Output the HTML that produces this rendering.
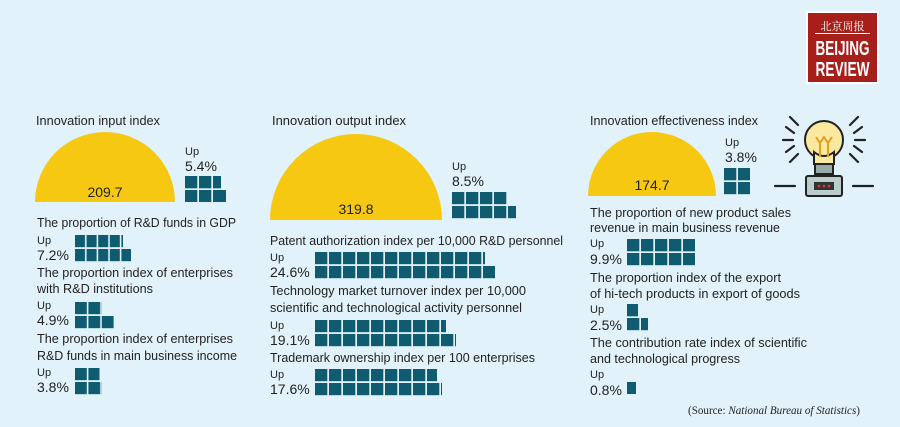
<!DOCTYPE html>
<html><head><meta charset="utf-8"><style>
html,body{margin:0;padding:0;background:#e1f2fa;}
svg{display:block;font-family:"Liberation Sans","Noto Sans CJK SC",sans-serif;}
</style></head><body>
<svg width="900" height="427" viewBox="0 0 900 427" xmlns="http://www.w3.org/2000/svg">
<defs>
<pattern id="p14" patternUnits="userSpaceOnUse" width="14" height="14"><rect width="12.3" height="12.3" fill="#0f5b6f"/></pattern>
<pattern id="p12" patternUnits="userSpaceOnUse" width="11.6" height="14"><rect width="10" height="12.3" fill="#0f5b6f"/></pattern>
<pattern id="p13" patternUnits="userSpaceOnUse" width="13.4" height="14"><rect width="11.8" height="12.3" fill="#0f5b6f"/></pattern>
</defs>
<rect width="900" height="427" fill="#e1f2fa"/>
<g fill="#222">
<!-- column 1 -->
<text x="36" y="125" font-size="13" textLength="124" lengthAdjust="spacingAndGlyphs">Innovation input index</text>
<path d="M35 202 A70 70 0 0 1 175 202 Z" fill="#f7c812"/>
<text x="105" y="197" font-size="14" text-anchor="middle">209.7</text>
<text x="185" y="155" font-size="11">Up</text>
<text x="185" y="171" font-size="14">5.4%</text>
<g transform="translate(185,176)"><rect width="36" height="26" fill="url(#p14)"/><rect x="36" y="14" width="5" height="12" fill="#0f5b6f"/></g>

<text x="37" y="227" font-size="13" textLength="199" lengthAdjust="spacingAndGlyphs">The proportion of R&amp;D funds in GDP</text>
<text x="37" y="244" font-size="11">Up</text>
<text x="37" y="260" font-size="14">7.2%</text>
<g transform="translate(75,235)"><rect width="48" height="12.3" fill="url(#p12)"/><rect y="14" width="56" height="12.3" fill="url(#p12)"/></g>

<text x="37" y="277" font-size="13" textLength="196" lengthAdjust="spacingAndGlyphs">The proportion index of enterprises</text>
<text x="37" y="293" font-size="13" textLength="116" lengthAdjust="spacingAndGlyphs">with R&amp;D institutions</text>
<text x="37" y="309" font-size="11">Up</text>
<text x="37" y="325" font-size="14">4.9%</text>
<g transform="translate(75,302)"><rect width="27" height="12.3" fill="url(#p13)"/><rect y="14" width="40" height="12.3" fill="url(#p13)"/></g>

<text x="37" y="343" font-size="13" textLength="196" lengthAdjust="spacingAndGlyphs">The proportion index of enterprises</text>
<text x="37" y="360" font-size="13" textLength="200" lengthAdjust="spacingAndGlyphs">R&amp;D funds in main business income</text>
<text x="37" y="376" font-size="11">Up</text>
<text x="37" y="392" font-size="14">3.8%</text>
<g transform="translate(75,368)"><rect width="24.5" height="12.3" fill="url(#p13)"/><rect y="14" width="27" height="12.3" fill="url(#p13)"/></g>

<!-- column 2 -->
<text x="272" y="125" font-size="13" textLength="134" lengthAdjust="spacingAndGlyphs">Innovation output index</text>
<path d="M270 220 A86 86 0 0 1 442 220 Z" fill="#f7c812"/>
<text x="356" y="214" font-size="14" text-anchor="middle">319.8</text>
<text x="452" y="170" font-size="11">Up</text>
<text x="452" y="186" font-size="14">8.5%</text>
<g transform="translate(452,192)"><rect width="55" height="12.3" fill="url(#p14)"/><rect y="14" width="64" height="12.3" fill="url(#p14)"/></g>

<text x="270" y="245" font-size="13" textLength="293" lengthAdjust="spacingAndGlyphs">Patent authorization index per 10,000 R&amp;D personnel</text>
<text x="270" y="261" font-size="11">Up</text>
<text x="270" y="277" font-size="14">24.6%</text>
<g transform="translate(315,252)"><rect width="170" height="12.3" fill="url(#p14)"/><rect y="14" width="180" height="12.3" fill="url(#p14)"/></g>

<text x="270" y="295" font-size="13" textLength="256" lengthAdjust="spacingAndGlyphs">Technology market turnover index per 10,000</text>
<text x="270" y="312" font-size="13" textLength="252" lengthAdjust="spacingAndGlyphs">scientific and technological activity personnel</text>
<text x="270" y="329" font-size="11">Up</text>
<text x="270" y="345" font-size="14">19.1%</text>
<g transform="translate(315,320)"><rect width="131" height="12.3" fill="url(#p14)"/><rect y="14" width="141" height="12.3" fill="url(#p14)"/></g>

<text x="270" y="362" font-size="13" textLength="265" lengthAdjust="spacingAndGlyphs">Trademark ownership index per 100 enterprises</text>
<text x="270" y="378" font-size="11">Up</text>
<text x="270" y="394" font-size="14">17.6%</text>
<g transform="translate(315,369)"><rect width="122" height="12.3" fill="url(#p14)"/><rect y="14" width="127" height="12.3" fill="url(#p14)"/></g>

<!-- column 3 -->
<text x="590" y="125" font-size="13" textLength="168" lengthAdjust="spacingAndGlyphs">Innovation effectiveness index</text>
<path d="M588 196 A64 64 0 0 1 716 196 Z" fill="#f7c812"/>
<text x="652" y="190" font-size="14" text-anchor="middle">174.7</text>
<text x="725" y="146" font-size="11">Up</text>
<text x="725" y="162" font-size="14">3.8%</text>
<g transform="translate(724,168)"><rect width="26" height="26.3" fill="url(#p14)"/></g>

<text x="590" y="217" font-size="13" textLength="201" lengthAdjust="spacingAndGlyphs">The proportion of new product sales</text>
<text x="590" y="232" font-size="13" textLength="190" lengthAdjust="spacingAndGlyphs">revenue in main business revenue</text>
<text x="590" y="247" font-size="11">Up</text>
<text x="590" y="264" font-size="14">9.9%</text>
<g transform="translate(627,239)"><rect width="68" height="26.3" fill="url(#p14)"/></g>

<text x="590" y="282" font-size="13" textLength="191" lengthAdjust="spacingAndGlyphs">The proportion index of the export</text>
<text x="590" y="298" font-size="13" textLength="210" lengthAdjust="spacingAndGlyphs">of hi-tech products in export of goods</text>
<text x="590" y="313" font-size="11">Up</text>
<text x="590" y="330" font-size="14">2.5%</text>
<g transform="translate(627,304)"><rect width="11" height="12.3" fill="#0f5b6f"/><rect y="14" width="21" height="12.3" fill="url(#p14)"/></g>

<text x="590" y="347" font-size="13" textLength="217" lengthAdjust="spacingAndGlyphs">The contribution rate index of scientific</text>
<text x="590" y="363" font-size="13" textLength="150" lengthAdjust="spacingAndGlyphs">and technological progress</text>
<text x="590" y="378" font-size="11">Up</text>
<text x="590" y="395" font-size="14">0.8%</text>
<rect x="627" y="382" width="9" height="12" fill="#0f5b6f"/>

<text x="860" y="414" font-size="12" text-anchor="end" font-family="Liberation Serif,serif" textLength="172" lengthAdjust="spacingAndGlyphs">(Source: <tspan font-style="italic">National Bureau of Statistics</tspan>)</text>
</g>

<!-- logo -->
<rect x="806" y="11" width="73" height="73" fill="#fff"/>
<rect x="808" y="13" width="69" height="69" fill="#a61f1b"/>
<text x="842.5" y="30" font-size="11" fill="#fff" text-anchor="middle" font-family="Noto Serif CJK SC,serif">北京周报</text>
<rect x="815" y="33" width="55" height="1" fill="#fff"/>
<text x="842.5" y="55" font-size="20" font-weight="bold" fill="#fff" text-anchor="middle" textLength="54" lengthAdjust="spacingAndGlyphs">BEIJING</text>
<text x="842.5" y="76" font-size="20" font-weight="bold" fill="#fff" text-anchor="middle" textLength="54" lengthAdjust="spacingAndGlyphs">REVIEW</text>

<!-- bulb -->
<g stroke="#222" stroke-width="2.2" fill="none" stroke-linecap="round">
<path d="M790 117 l8 8 M786 127 l8 6 M783 140 h10 M786 152 l8 -6 M790 162 l8 -8"/>
<path d="M858 117 l-8 8 M862 127 l-8 6 M865 140 h-10 M862 152 l-8 -6 M858 162 l-8 -8"/>
<path d="M775 186 h20 M853 186 h20"/>
</g>
<circle cx="824" cy="140" r="19" fill="#fbe9a0" stroke="#222" stroke-width="2"/>
<path d="M814 152 q10 8 20 0 v12 h-20z" fill="#fbe9a0" stroke="#222" stroke-width="2"/>
<path d="M816 137 l4 6 l4-6 l4 6 l4 -6 M820 143 v14 M828 143 v14" stroke="#e0a020" stroke-width="2" fill="none"/>
<rect x="815" y="164" width="18" height="10" fill="#9aa" stroke="#222" stroke-width="2"/>
<rect x="806" y="176" width="36" height="20" rx="2" fill="#bcc" stroke="#222" stroke-width="2"/>
<rect x="814" y="182" width="20" height="8" fill="#333"/>
<circle cx="819" cy="186" r="1.3" fill="#e33"/><circle cx="824" cy="186" r="1.3" fill="#e33"/><circle cx="829" cy="186" r="1.3" fill="#e33"/>
</svg>
</body></html>
